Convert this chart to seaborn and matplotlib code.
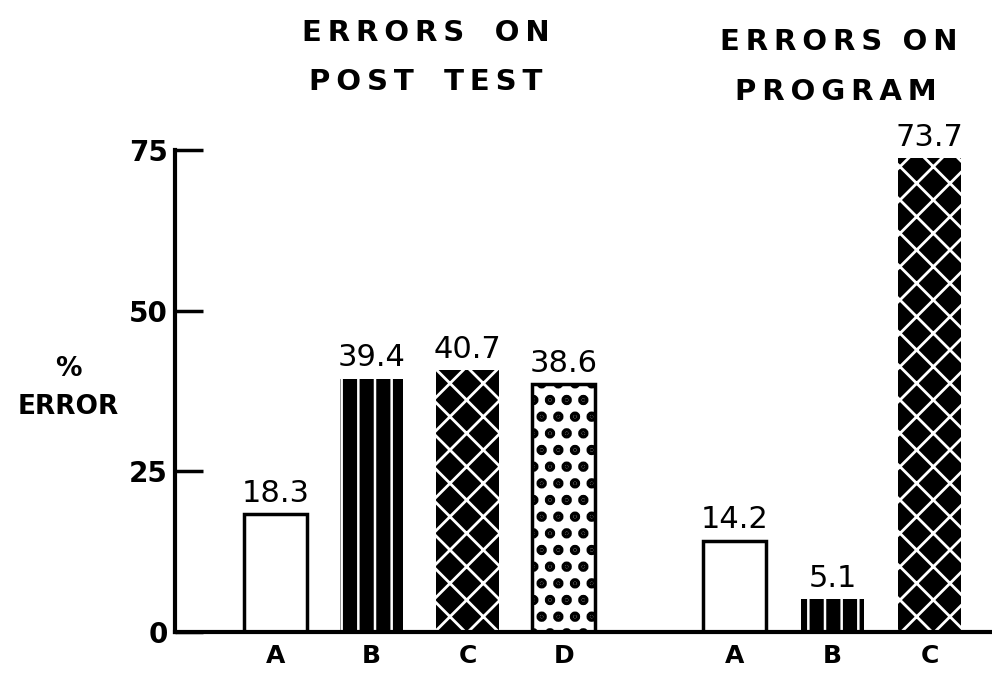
import pandas as pd
import seaborn as sns
import matplotlib
matplotlib.use("Agg")
import matplotlib.pyplot as plt

# data
post_labels = ["A", "B", "C", "D"]
post_values = [18.3, 39.4, 40.7, 38.6]
prog_labels = ["A", "B", "C"]
prog_values = [14.2, 5.1, 73.7]
y_ticks = [0, 25, 50, 75]

# layout: slot positions of the bars along x (gap between the two groups)
post_slots = [0, 1, 2, 3]
prog_slots = [4.78, 5.8, 6.81]

# fill style of each bar, in drawing order
bar_styles = [
    dict(facecolor="white", edgecolor="black", hatch=None, linewidth=2.5, hlw=2.0),
    dict(facecolor="black", edgecolor="white", hatch="|", linewidth=0, hlw=1.8),
    dict(facecolor="black", edgecolor="white", hatch="x", linewidth=0, hlw=2.0),
    dict(facecolor="white", edgecolor="black", hatch=".", linewidth=2.5, hlw=5.0),
    dict(facecolor="white", edgecolor="black", hatch=None, linewidth=2.5, hlw=2.0),
    dict(facecolor="black", edgecolor="white", hatch="|", linewidth=0, hlw=1.8),
    dict(facecolor="black", edgecolor="white", hatch="x", linewidth=0, hlw=2.0),
]

TS = "\u2009"  # thin space for letter spacing


def spaced(text, word_gap="  "):
    return word_gap.join(TS.join(w) for w in text.split())


def build_frame():
    df = pd.DataFrame({
        "slot": post_slots + prog_slots,
        "label": post_labels + prog_labels,
        "error": post_values + prog_values,
    })
    return df


def draw(df):
    sns.set_style("white")
    plt.rcParams["font.family"] = ["DejaVu Sans"]
    plt.rcParams["text.color"] = "black"
    plt.rcParams["xtick.color"] = "black"
    plt.rcParams["ytick.color"] = "black"
    plt.rcParams["axes.edgecolor"] = "black"
    plt.rcParams["hatch.linewidth"] = 2.0

    fig = plt.figure(figsize=(9.92, 6.73), dpi=100)
    ax = fig.add_axes([0.176, 0.061, 0.824, 0.716])

    sns.barplot(data=df, x="slot", y="error", native_scale=True, width=0.66,
                color="white", saturation=1, ax=ax)

    for patch, style in zip(ax.patches, bar_styles):
        patch.set_facecolor(style["facecolor"])
        patch.set_edgecolor(style["edgecolor"])
        patch.set_linewidth(style["linewidth"])
        if style["hatch"]:
            patch.set_hatch(style["hatch"])
            if hasattr(patch, "set_hatch_linewidth"):
                patch.set_hatch_linewidth(style["hlw"])

    # value labels above bars
    for patch, val in zip(ax.patches, df["error"]):
        ax.text(patch.get_x() + patch.get_width() / 2, val + 1.0, f"{val:.1f}",
                ha="center", va="bottom", fontsize=22, color="black")

    ax.set_xlim(-1.05, 7.46)
    ax.set_ylim(0, 75)
    ax.set_yticks(y_ticks)
    ax.set_yticklabels([str(t) for t in y_ticks], fontsize=20, fontweight="bold")
    ax.tick_params(axis="y", direction="in", length=20, width=2.5, pad=5, left=True)
    ax.set_xticks(df["slot"])
    ax.set_xticklabels(df["label"], fontsize=18, fontweight="bold")
    ax.tick_params(axis="x", length=0, pad=9)
    ax.set_xlabel("")
    ax.set_ylabel("")

    sns.despine(ax=ax, top=True, right=True)
    ax.spines["left"].set_linewidth(3)
    ax.spines["bottom"].set_linewidth(3)

    fig.text(68 / 992, 1 - 388 / 673, "%\nERROR", ha="center", va="center",
             fontsize=19, fontweight="bold", linespacing=1.6)

    title_kw = dict(ha="center", va="center", fontsize=21, fontweight="bold")
    fig.text(426 / 992, 1 - 33 / 673, spaced("ERRORS ON", "   "), **title_kw)
    fig.text(426 / 992, 1 - 82 / 673, spaced("POST TEST", "   "), **title_kw)
    fig.text(839 / 992, 1 - 42 / 673, spaced("ERRORS ON", "  "), **title_kw)
    fig.text(836 / 992, 1 - 92 / 673, spaced("PROGRAM"), **title_kw)

    fig.savefig("out.png", dpi=100)


def main():
    df = build_frame()
    draw(df)


if __name__ == "__main__":
    main()
